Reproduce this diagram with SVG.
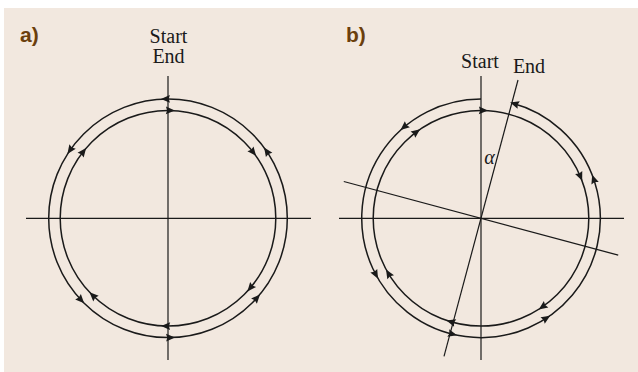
<svg xmlns="http://www.w3.org/2000/svg" xmlns:xlink="http://www.w3.org/1999/xlink" width="638" height="372" viewBox="0 0 638 372">
<style>
.bg{fill:#f2e8df}
.lbl{font-family:"Liberation Sans",Arial,sans-serif;font-weight:bold;font-size:21px;fill:#6b3f0d}
.t{font-family:"Liberation Serif","Times New Roman",serif;font-size:20px;fill:#1a1a1a}
.ti{font-family:"Liberation Serif","Times New Roman",serif;font-size:20px;font-style:italic;fill:#1a1a1a}
.ax{stroke:#1a1a1a;stroke-width:1.2;fill:none}
.c{stroke:#1a1a1a;stroke-width:1.5;fill:none}
.ah{fill:#1a1a1a}
</style>
<defs>
<path id="ah" d="M5,0 L-4,-3.9 L-2.8,0 L-4,3.9 Z"/>
</defs>
<rect class="bg" x="4" y="8" width="634" height="364"/>

<g id="panel-a">
  <text class="lbl" x="20" y="42">a)</text>
  <text class="t" x="168.5" y="43.3" text-anchor="middle">Start</text>
  <text class="t" x="168.5" y="63.3" text-anchor="middle">End</text>
  <g id="axes-a">
    <line class="ax" x1="26" y1="218.3" x2="311" y2="218.3"/>
    <line class="ax" x1="168" y1="76" x2="168" y2="360"/>
  </g>
  <g id="outer-a">
    <circle class="c" cx="168" cy="218.3" r="119.3"/>
    <g class="ah">
      <use xlink:href="#ah" transform="translate(168 218.3) rotate(-91) translate(119.3 0) rotate(-90)"/>
      <use xlink:href="#ah" transform="translate(168 218.3) rotate(-145) translate(119.3 0) rotate(-90)"/>
      <use xlink:href="#ah" transform="translate(168 218.3) rotate(137) translate(119.3 0) rotate(-90)"/>
      <use xlink:href="#ah" transform="translate(168 218.3) rotate(89) translate(119.3 0) rotate(-90)"/>
      <use xlink:href="#ah" transform="translate(168 218.3) rotate(42) translate(119.3 0) rotate(-90)"/>
      <use xlink:href="#ah" transform="translate(168 218.3) rotate(-34) translate(119.3 0) rotate(-90)"/>
    </g>
  </g>
  <g id="inner-a">
    <circle class="c" cx="168" cy="218.3" r="107.8"/>
    <g class="ah">
      <use xlink:href="#ah" transform="translate(168 218.3) rotate(-89) translate(107.8 0) rotate(90)"/>
      <use xlink:href="#ah" transform="translate(168 218.3) rotate(-38) translate(107.8 0) rotate(90)"/>
      <use xlink:href="#ah" transform="translate(168 218.3) rotate(40) translate(107.8 0) rotate(90)"/>
      <use xlink:href="#ah" transform="translate(168 218.3) rotate(91) translate(107.8 0) rotate(90)"/>
      <use xlink:href="#ah" transform="translate(168 218.3) rotate(134) translate(107.8 0) rotate(90)"/>
      <use xlink:href="#ah" transform="translate(168 218.3) rotate(-142) translate(107.8 0) rotate(90)"/>
    </g>
  </g>
</g>

<g id="panel-b">
  <text class="lbl" x="346" y="42">b)</text>
  <text class="t" x="480" y="68.3" text-anchor="middle">Start</text>
  <text class="t" x="529" y="72.7" text-anchor="middle">End</text>
  <text class="ti" x="489.5" y="164" text-anchor="middle">α</text>
  <g id="axes-b">
    <line class="ax" x1="339" y1="218.3" x2="624" y2="218.3"/>
    <line class="ax" x1="481" y1="76" x2="481" y2="360"/>
    <line class="ax" x1="518" y1="80" x2="444" y2="356.4"/>
    <line class="ax" x1="343.8" y1="181.5" x2="618.2" y2="255.1"/>
  </g>
  <g id="outer-b">
    <path class="c" d="M481,99 A119.3,119.3 0 1 0 511.88,103.06"/>
    <g class="ah">
      <use xlink:href="#ah" transform="translate(481 218.3) rotate(-73.5) translate(119.3 0) rotate(-90)"/>
      <use xlink:href="#ah" transform="translate(481 218.3) rotate(-130) translate(119.3 0) rotate(-90)"/>
      <use xlink:href="#ah" transform="translate(481 218.3) rotate(152) translate(119.3 0) rotate(-90)"/>
      <use xlink:href="#ah" transform="translate(481 218.3) rotate(104) translate(119.3 0) rotate(-90)"/>
      <use xlink:href="#ah" transform="translate(481 218.3) rotate(57) translate(119.3 0) rotate(-90)"/>
      <use xlink:href="#ah" transform="translate(481 218.3) rotate(-19) translate(119.3 0) rotate(-90)"/>
    </g>
  </g>
  <g id="inner-b">
    <circle class="c" cx="481" cy="218.3" r="107.8"/>
    <g class="ah">
      <use xlink:href="#ah" transform="translate(481 218.3) rotate(-89) translate(107.8 0) rotate(90)"/>
      <use xlink:href="#ah" transform="translate(481 218.3) rotate(-23) translate(107.8 0) rotate(90)"/>
      <use xlink:href="#ah" transform="translate(481 218.3) rotate(55) translate(107.8 0) rotate(90)"/>
      <use xlink:href="#ah" transform="translate(481 218.3) rotate(106) translate(107.8 0) rotate(90)"/>
      <use xlink:href="#ah" transform="translate(481 218.3) rotate(149) translate(107.8 0) rotate(90)"/>
      <use xlink:href="#ah" transform="translate(481 218.3) rotate(-127) translate(107.8 0) rotate(90)"/>
    </g>
  </g>
</g>
</svg>
